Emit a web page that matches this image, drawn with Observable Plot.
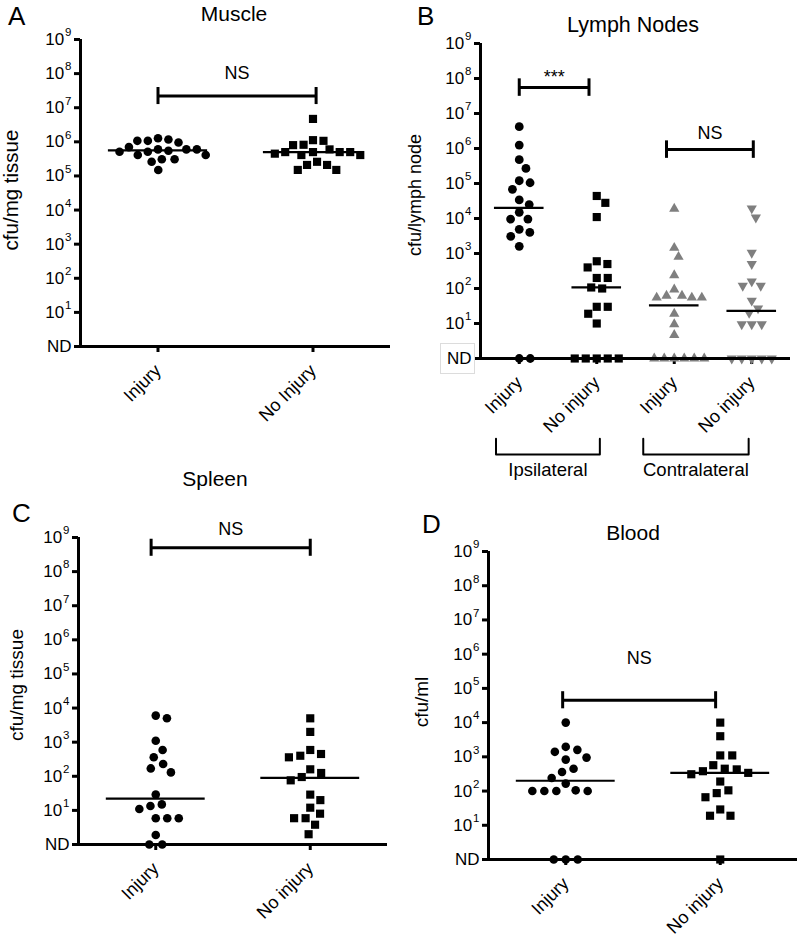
<!DOCTYPE html>
<html><head><meta charset="utf-8">
<script src="https://cdn.jsdelivr.net/npm/d3@7"></script>
<script src="https://cdn.jsdelivr.net/npm/@observablehq/plot@0.6"></script>
<style>
body{margin:0;background:#fff;}
#root{position:relative;width:800px;height:943px;overflow:hidden;font-family:"Liberation Sans",Arial,sans-serif;color:#000;}
.lbl{position:absolute;white-space:nowrap;line-height:1;color:#000;}
.panel{position:absolute;}
</style></head><body><div id="root"></div>
<script>
// ---------- DATA (0 = not detected, "ND") ----------
const ND = 0;
const yTickValues = [1, 1e1, 1e2, 1e3, 1e4, 1e5, 1e6, 1e7, 1e8, 1e9];

// A - Muscle (cfu/mg tissue)
const muscleCats = ["Injury", "No Injury"];
const muscleInjury = [1.28e6, 1.07e6, 9.6e5, 1.07e6, 1.17e6, 6e5, 6e5, 6e5, 7e5, 5.1e5, 4.1e5, 5.5e5, 4.1e5, 5.1e5, 3.1e5, 2.6e5, 3.1e5, 1.5e5];
const muscleNoInjury = [4.7e6, 1.07e6, 1.12e6, 8.2e5, 8e5, 6e5, 5e5, 5e5, 4.1e5, 4.1e5, 4.5e5, 5e5, 5e5, 2.6e5, 2.1e5, 1.5e5, 1.5e5, 2.1e5];
const muscleMedians = [5.6e5, 5e5];

// B - Lymph nodes (cfu/lymph node)
const lnCats = ["Injury", "No injury", "Injury", "No injury"];
const lnIpsiInjury = [4.2e6, 1.25e6, 4.8e5, 2.7e5, 1.05e5, 1.2e5, 6.8e4, 3.4e4, 2.5e4, 1.5e4, 9.6e3, 9.6e3, 4e3, 3.1e3, 4.9e3, 1.6e3, ND, ND];
const lnIpsiNoInjury = [4.4e4, 2.8e4, 1.1e4, 6e2, 5e2, 4e2, 2e2, 2e2, 1.07e2, 1e2, 3e1, 3e1, 1.9e1, 1e1, ND, ND, ND, ND, ND];
const lnContraInjury = [1.9e4, 1.45e3, 8e2, 2.4e2, 9.4e1, 6.2e1, 5.5e1, 5.5e1, 5.5e1, 6.2e1, 1.9e1, 9.5, 4.7, ND, ND, ND, ND, ND, ND];
const lnContraNoInjury = [1.95e4, 1.07e4, 1.05e3, 5e2, 1.6e2, 1.2e2, 1.2e2, 4.5e1, 2.7e1, 2e1, 9.5, 9.5, 9.5, ND, ND, ND, ND, ND];
const lnMedians = [2e4, 1.07e2, 3.3e1, 2.3e1];
const lnSides = ["Ipsilateral", "Contralateral"];

// C - Spleen (cfu/mg tissue)
const spleenCats = ["Injury", "No injury"];
const spleenInjury = [6e3, 5e3, 1.1e3, 5.9e2, 3.6e2, 2.3e2, 1.7e2, 1.3e2, 2.9e1, 1.1e1, 1.35e1, 1.5e1, 5.9, 5.9, 5.9, 1.9, ND, ND];
const spleenNoInjury = [5e3, 2e3, 5.9e2, 4.5e2, 3.6e2, 4e2, 1.6e2, 1.25e2, 9.5e1, 7.6e1, 2.9e1, 2e1, 1.2e1, 8, 5.9, 5.9, 3.8, 2];
const spleenMedians = [2.2e1, 9e1];

// D - Blood (cfu/ml)
const bloodCats = ["Injury", "No injury"];
const bloodInjury = [1e4, 1.96e3, 1.6e3, 1.4e3, 9.5e2, 8.3e2, 4.5e2, 3.6e2, 2.4e2, 1.65e2, 1e2, 1e2, 1e2, 1e2, 1.05e2, ND, ND, ND];
const bloodNoInjury = [1e4, 4e3, 1.1e3, 1.1e3, 3.8e2, 3.1e2, 4.5e2, 3.4e2, 5.7e2, 4.3e2, 1.9e2, 1.05e2, 8.7e1, 6.6e1, 2.9e1, 1.9e1, 1.9e1, ND];
const bloodMedians = [2e2, 3.4e2];

// ---------- helpers ----------
const root = document.getElementById("root");
const FONT = '"Liberation Sans", Arial, sans-serif';
const sqrt3 = Math.sqrt(3);
const triangleDown = {draw(ctx, size) {
  const y = -Math.sqrt(size / (sqrt3 * 3));
  ctx.moveTo(0, -y * 2); ctx.lineTo(-sqrt3 * y, y); ctx.lineTo(sqrt3 * y, y); ctx.closePath();
}};

function addText(txt, x, baseline, size, anchor) {
  const d = document.createElement("div");
  d.className = "lbl"; d.textContent = txt; d.style.fontSize = size + "px";
  d.style.top = (baseline - 0.8465 * size) + "px";
  if (anchor === "middle") { d.style.left = (x - 150) + "px"; d.style.width = "300px"; d.style.textAlign = "center"; }
  else d.style.left = x + "px";
  root.appendChild(d);
}
function addYLabel(txt, cx, cy, size) {
  const d = document.createElement("div");
  d.className = "lbl"; d.textContent = txt; d.style.fontSize = size + "px";
  d.style.left = cx + "px"; d.style.top = cy + "px";
  d.style.transform = "translate(-50%,-50%) rotate(-90deg)";
  root.appendChild(d);
}

// beeswarm: offsets (in category units) so markers do not overlap
function swarm(vals, pxUnit, pxDec, D) {
  const order = vals.map((v, i) => i).sort((a, b) => vals[b] - vals[a]);
  const placed = [], off = new Array(vals.length);
  for (const i of order) {
    const y = -Math.log10(vals[i]) * pxDec;
    const near = placed.filter(p => Math.abs(p.y - y) < D);
    const cands = [0];
    for (const p of near) { const dx = Math.sqrt(D * D - (p.y - y) ** 2); cands.push(p.x + dx, p.x - dx); }
    cands.sort((a, b) => Math.abs(a) - Math.abs(b) || b - a);
    const best = cands.find(c => near.every(p => (p.x - c) ** 2 + (p.y - y) ** 2 >= D * D - 1e-6));
    placed.push({x: best, y}); off[i] = best / pxUnit;
  }
  return off;
}

function styleAxes(svg) {
  svg.querySelectorAll('g[aria-label="y-axis tick label"] text').forEach(t => {
    t.setAttribute("font-size", "17"); t.style.fontSize = "17px";
    const m = /^10\^(\d+)$/.exec(t.textContent);
    if (!m) return;
    t.textContent = "10";
    const s = document.createElementNS("http://www.w3.org/2000/svg", "tspan");
    s.setAttribute("font-size", "11.5"); s.style.fontSize = "11.5px";
    s.setAttribute("dy", "-0.75em"); s.setAttribute("dx", "1");
    s.textContent = m[1];
    t.appendChild(s);
  });
  svg.querySelectorAll('g[aria-label="x-axis tick label"] text').forEach(t => {
    t.setAttribute("font-size", "18"); t.style.fontSize = "18px";
  });
  svg.querySelectorAll('g[aria-label="y-axis tick label"], g[aria-label="x-axis tick label"]').forEach(g => {
    g.removeAttribute("font-size");
  });
}

function makePanel(cfg) {
  const {left, top, W, H, mt, mr, mb, ml, cats, groups, medians, brackets, extra = []} = cfg;
  const n = cats.length;
  const pxUnit = (W - ml - mr) / n;
  const pxDec = (H - mt - mb) / 9;
  const dotMarks = groups.map((g, gi) => {
    const vals = g.values.map(v => v === ND ? 1 : v);
    const offs = swarm(vals, pxUnit, pxDec, g.spacing || 10.5);
    const rows = vals.map((v, i) => ({x: gi + offs[i], y: v}));
    return Plot.dot(rows, {x: "x", y: "y", r: g.r, symbol: g.symbol, fill: g.fill, stroke: "none"});
  });
  const med = medians.map((m, i) => ({i, m}));
  const ends = brackets.flatMap(b => [b.x1, b.x2].map(x => ({x, y: b.y})));
  const bracketLabels = brackets.map(b =>
    Plot.text([b], {x: d => (d.x1 + d.x2) / 2, y: "y", text: "label", dy: b.dy, fontSize: b.fs || 18}));
  const svg = Plot.plot({
    width: W, height: H, marginTop: mt, marginRight: mr, marginBottom: mb, marginLeft: ml,
    style: {fontFamily: FONT, fontSize: "17px", color: "#000", background: "transparent", overflow: "visible"},
    x: {domain: [-0.5, n - 0.5]},
    y: {type: "log", domain: [1, 1e9]},
    marks: [
      Plot.axisY({ticks: yTickValues, tickFormat: v => v === 1 ? "ND" : "10^" + Math.round(Math.log10(v)),
        tickSize: 6, tickPadding: 3, strokeWidth: 3, fontSize: 17, label: null}),
      Plot.axisX({ticks: d3.range(n), tickFormat: i => cats[i], tickRotate: -45, tickSize: 6, tickPadding: 15,
        strokeWidth: 3, fontSize: 18, label: null}),
      ...dotMarks,
      Plot.ruleY(med, {y: "m", x1: d => d.i - 0.32, x2: d => d.i + 0.32, strokeWidth: 2.2}),
      Plot.ruleY(brackets, {y: "y", x1: "x1", x2: "x2", strokeWidth: 3}),
      Plot.ruleX(ends, {x: "x", y1: d => d.y / 10 ** 0.25, y2: d => d.y * 10 ** 0.25, strokeWidth: 3}),
      ...bracketLabels,
      ...extra,
      Plot.ruleY([1], {strokeWidth: 3}),
      Plot.ruleX([-0.5], {y1: 1, y2: 1e9, strokeWidth: 3})
    ]
  });
  styleAxes(svg);
  const wrap = document.createElement("div");
  wrap.className = "panel"; wrap.style.left = left + "px"; wrap.style.top = top + "px";
  wrap.appendChild(svg); root.appendChild(wrap);
}

// ---------- Panel A ----------
makePanel({left: 0, top: 0, W: 400, H: 420, mt: 39, mr: 10, mb: 74, ml: 80,
  cats: muscleCats,
  groups: [{values: muscleInjury, symbol: "circle", r: 4.3, fill: "#000"},
           {values: muscleNoInjury, symbol: "square", r: 4.6, fill: "#000"}],
  medians: muscleMedians,
  brackets: [{x1: 0, x2: 1.02, y: 2.2e7, label: "NS", dy: -23}]});
addText("A", 8, 25, 26, "start");
addText("Muscle", 234, 21, 21, "middle");
addYLabel("cfu/mg tissue", 11, 190, 20.5);

// ---------- Panel B ----------
const sideBrackets = [{g: 0, a: -0.3, b: 1.04, label: lnSides[0]}, {g: 1, a: 1.6, b: 2.96, label: lnSides[1]}];
const sidePath = sideBrackets.flatMap(s => [
  {g: s.g, x: s.a, y: 10 ** -2.29}, {g: s.g, x: s.a, y: 10 ** -2.74},
  {g: s.g, x: s.b, y: 10 ** -2.74}, {g: s.g, x: s.b, y: 10 ** -2.29}]);
makePanel({left: 400, top: 0, W: 400, H: 490, mt: 43, mr: 10, mb: 132, ml: 80,
  cats: lnCats,
  groups: [{values: lnIpsiInjury, symbol: "circle", r: 4.4, fill: "#000", spacing: 11},
           {values: lnIpsiNoInjury, symbol: "square", r: 4.6, fill: "#000", spacing: 11},
           {values: lnContraInjury, symbol: "triangle", r: 3.8, fill: "#7f7f7f", spacing: 10},
           {values: lnContraNoInjury, symbol: triangleDown, r: 3.8, fill: "#7f7f7f", spacing: 10}],
  medians: lnMedians,
  brackets: [{x1: 0, x2: 0.9, y: 5.5e7, label: "***", dy: -10, fs: 18},
             {x1: 1.9, x2: 3.02, y: 9.3e5, label: "NS", dy: -16}],
  extra: [
    Plot.line(sidePath, {x: "x", y: "y", z: "g", strokeWidth: 2}),
    Plot.text(sideBrackets, {x: d => (d.a + d.b) / 2, y: 10 ** -3.2, text: "label", fontSize: 18.5})
  ]});
addText("B", 417, 25, 26, "start");
addText("Lymph Nodes", 633, 33, 21.5, "middle");
addYLabel("cfu/lymph node", 415, 195, 18);
{ const box = document.createElement("div");
  Object.assign(box.style, {position: "absolute", left: "440px", top: "343px", width: "35px", height: "31px",
    border: "1px solid #dcdcdc", boxSizing: "border-box"});
  root.appendChild(box); }

// ---------- Panel C ----------
makePanel({left: 0, top: 480, W: 400, H: 463, mt: 57, mr: 13, mb: 99, ml: 78,
  cats: spleenCats,
  groups: [{values: spleenInjury, symbol: "circle", r: 4.3, fill: "#000", spacing: 11.5},
           {values: spleenNoInjury, symbol: "square", r: 4.6, fill: "#000", spacing: 11.5}],
  medians: spleenMedians,
  brackets: [{x1: -0.03, x2: 1.0, y: 5e8, label: "NS", dy: -19}]});
addText("C", 12, 522, 26, "start");
addText("Spleen", 215, 486, 21, "middle");
addYLabel("cfu/mg tissue", 16, 685, 19);

// ---------- Panel D ----------
makePanel({left: 400, top: 480, W: 400, H: 463, mt: 71, mr: 3, mb: 84, ml: 88,
  cats: bloodCats,
  groups: [{values: bloodInjury, symbol: "circle", r: 4.3, fill: "#000", spacing: 12},
           {values: bloodNoInjury, symbol: "square", r: 4.6, fill: "#000", spacing: 12}],
  medians: bloodMedians,
  brackets: [{x1: -0.02, x2: 0.97, y: 4.5e4, label: "NS", dy: -42}]});
addText("D", 422, 533, 26, "start");
addText("Blood", 633, 540, 21, "middle");
addYLabel("cfu/ml", 421, 702, 19);
</script></body></html>
